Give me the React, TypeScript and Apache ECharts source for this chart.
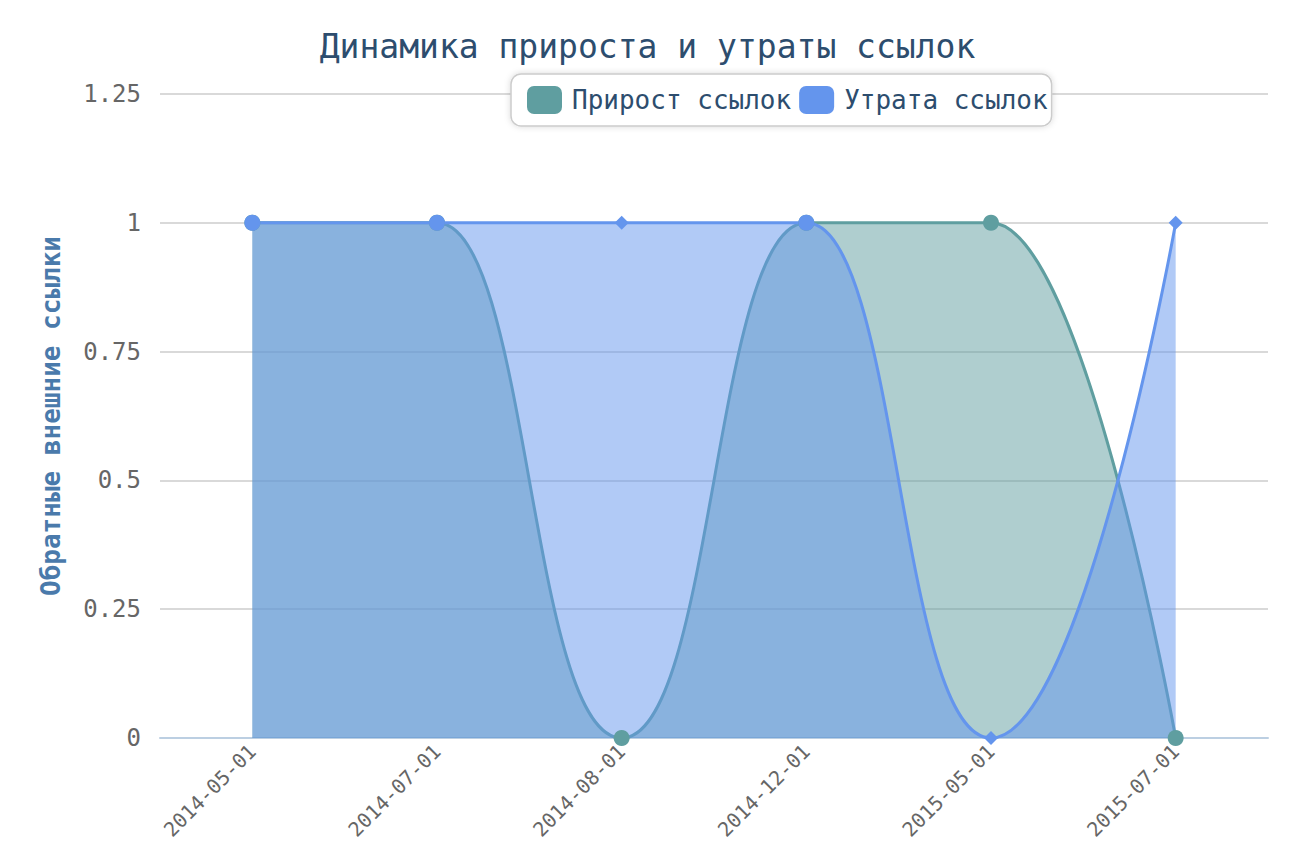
import React, { useEffect, useRef } from "react";
import * as echarts from "echarts";

const categories = ["2014-05-01", "2014-07-01", "2014-08-01", "2014-12-01", "2015-05-01", "2015-07-01"];
const gainValues = [1, 1, 0, 1, 1, 0];
const lossValues = [1, 1, 1, 1, 0, 1];
const lossSymbols = ["circle", "circle", "diamond", "circle", "diamond", "diamond"];
const seriesNames = ["Прирост ссылок", "Утрата ссылок"];
const yTicks = { min: 0, max: 1.25, interval: 0.25 };

const FONT = "'DejaVu Sans Mono', monospace";
const TEAL = "#5F9EA0";
const BLUE = "#6495ED";

export default function App() {
  const ref = useRef<HTMLDivElement>(null);
  useEffect(() => {
    document.body.style.margin = "0";
    const chart = echarts.init(ref.current!, null, { renderer: "svg" });
    chart.setOption({
      animation: false,
      backgroundColor: "#fff",
      title: {
        text: "Динамика прироста и утраты ссылок",
        left: "center",
        top: 25,
        textStyle: { fontFamily: FONT, fontSize: 33, fontWeight: "normal", color: "#2d4d6e" },
      },
      legend: {
        left: 511,
        top: 74,
        itemWidth: 35,
        itemHeight: 28,
        itemGap: 8,
        icon: "roundRect",
        padding: [12, 4, 12, 16],
        borderColor: "#cccccc",
        borderWidth: 1.5,
        borderRadius: 10,
        backgroundColor: "#ffffff",
        shadowBlur: 6,
        shadowColor: "rgba(0,0,0,0.15)",
        textStyle: { fontFamily: FONT, fontSize: 26, color: "#2d4d6e", padding: [5, 0, 0, 5] },
        data: seriesNames,
      },
      grid: { left: 160, right: 27, top: 94, bottom: 119, containLabel: false },
      xAxis: {
        type: "category",
        data: categories,
        boundaryGap: true,
        axisLine: { lineStyle: { color: "#bccfe2", width: 2 } },
        axisTick: { length: 8, lineStyle: { color: "#bccfe2", width: 2 } },
        axisLabel: { rotate: 45, fontFamily: FONT, fontSize: 20, color: "#666", margin: 10 },
      },
      yAxis: {
        type: "value",
        min: yTicks.min,
        max: yTicks.max,
        interval: yTicks.interval,
        name: "Обратные внешние ссылки",
        nameLocation: "middle",
        nameRotate: 90,
        nameGap: 96,
        nameTextStyle: { fontFamily: FONT, fontSize: 26, fontWeight: "bold", color: "#4a7aab" },
        axisLine: { show: false },
        axisTick: { show: false },
        axisLabel: { fontFamily: FONT, fontSize: 24, color: "#666", margin: 19 },
        splitLine: { lineStyle: { color: "#cccccc", width: 1.5 } },
      },
      series: [
        {
          name: seriesNames[0],
          type: "line",
          smooth: 0.5,
          smoothMonotone: "x",
          data: gainValues,
          color: TEAL,
          showSymbol: false,
          z: 2,
          lineStyle: { width: 3, color: TEAL },
          itemStyle: { color: TEAL },
          areaStyle: { color: TEAL, opacity: 0.5 },
        },
        {
          name: seriesNames[1],
          type: "line",
          smooth: 0.5,
          smoothMonotone: "x",
          data: lossValues,
          color: BLUE,
          showSymbol: false,
          z: 3,
          lineStyle: { width: 3, color: BLUE },
          itemStyle: { color: BLUE },
          areaStyle: { color: BLUE, opacity: 0.5 },
        },
        {
          name: seriesNames[0],
          type: "scatter",
          data: gainValues,
          symbol: "circle",
          symbolSize: 16,
          z: 4,
          itemStyle: { color: TEAL, opacity: 1 },
        },
        {
          name: seriesNames[1],
          type: "scatter",
          data: lossValues.map((v, i) => ({
            value: v,
            symbol: lossSymbols[i],
            symbolSize: lossSymbols[i] === "circle" ? 16 : 14,
          })),
          z: 5,
          itemStyle: { color: BLUE, opacity: 1 },
        },
      ],
    });
    return () => chart.dispose();
  }, []);
  return <div ref={ref} style={{ width: 1295, height: 857 }} />;
}
